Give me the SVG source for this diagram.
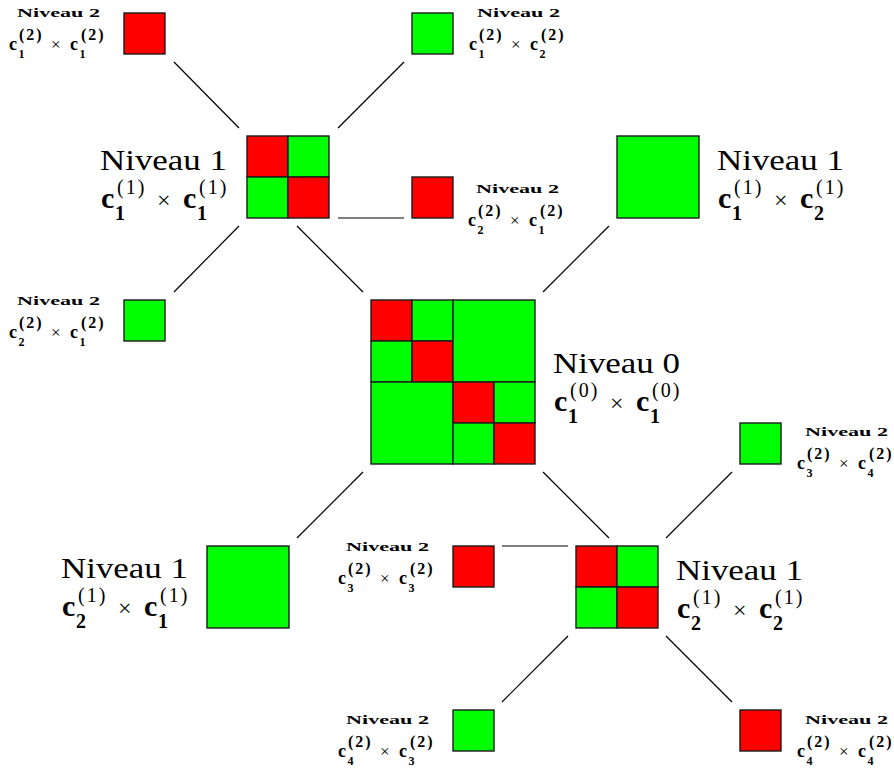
<svg xmlns="http://www.w3.org/2000/svg" width="894" height="769" viewBox="0 0 894 769" font-family="'Liberation Serif','DejaVu Serif',serif">
<style>
text{font-family:"Liberation Serif","DejaVu Serif",serif;fill:#000}
.r{fill:#ff0000;stroke:#1a1a1a;stroke-width:1.4}
.g{fill:#00ff00;stroke:#1a1a1a;stroke-width:1.4}
.ln{stroke:#000;stroke-width:1.2;fill:none}
.n1{font-size:29px}
.bc{font-size:30px;font-weight:bold}
.bs{font-size:20px;font-weight:bold}
.bp{font-size:20px;letter-spacing:2px}
.bx{font-size:24px;font-weight:normal}
.n2{font-size:13.5px;font-weight:bold}
.sc{font-size:18px;font-weight:bold}
.ss{font-size:12px;font-weight:bold}
.sp{font-size:16px;font-weight:bold;letter-spacing:2px}
.sx{font-size:17px;font-weight:normal}
</style>
<rect width="894" height="769" fill="#fff"/>
<g id="connectors">
<line class="ln" x1="174" y1="62" x2="239" y2="128"/>
<line class="ln" x1="338" y1="128" x2="404" y2="62"/>
<line class="ln" x1="338" y1="218" x2="404" y2="218"/>
<line class="ln" x1="239" y1="226" x2="174" y2="292"/>
<line class="ln" x1="297" y1="226" x2="363" y2="292"/>
<line class="ln" x1="543" y1="292" x2="609" y2="226"/>
<line class="ln" x1="363" y1="472" x2="297" y2="538"/>
<line class="ln" x1="543" y1="472" x2="609" y2="538"/>
<line class="ln" x1="666" y1="538" x2="732" y2="472"/>
<line class="ln" x1="502" y1="546" x2="568" y2="546"/>
<line class="ln" x1="568" y1="636" x2="502" y2="702"/>
<line class="ln" x1="666" y1="636" x2="732" y2="702"/>
</g>
<g id="level0">
<rect class="r" x="371" y="300" width="41" height="41"/>
<rect class="g" x="412" y="300" width="41" height="41"/>
<rect class="g" x="371" y="341" width="41" height="41"/>
<rect class="r" x="412" y="341" width="41" height="41"/>
<rect class="g" x="453" y="300" width="82" height="82"/>
<rect class="g" x="371" y="382" width="82" height="82"/>
<rect class="r" x="453" y="382" width="41" height="41"/>
<rect class="g" x="494" y="382" width="41" height="41"/>
<rect class="g" x="453" y="423" width="41" height="41"/>
<rect class="r" x="494" y="423" width="41" height="41"/>
<g transform="translate(553,375)">
<text class="n1" x="0" y="-2" textLength="127" lengthAdjust="spacingAndGlyphs">Niveau 0</text>
<text><tspan class="bc" x="1" y="36">c</tspan><tspan class="bs" x="15" y="48">1</tspan><tspan class="bp" x="17" y="22">(0)</tspan><tspan class="bx" x="57" y="36">×</tspan><tspan class="bc" x="83" y="36">c</tspan><tspan class="bs" x="97" y="48">1</tspan><tspan class="bp" x="99" y="22">(0)</tspan></text>
</g>
</g>
<g id="l1-c1c1">
<rect class="r" x="247" y="136" width="41" height="41"/>
<rect class="g" x="288" y="136" width="41" height="41"/>
<rect class="g" x="247" y="177" width="41" height="41"/>
<rect class="r" x="288" y="177" width="41" height="41"/>
<g transform="translate(100,172)">
<text class="n1" x="0" y="-2" textLength="127" lengthAdjust="spacingAndGlyphs">Niveau 1</text>
<text><tspan class="bc" x="1" y="36">c</tspan><tspan class="bs" x="15" y="48">1</tspan><tspan class="bp" x="17" y="22">(1)</tspan><tspan class="bx" x="57" y="36">×</tspan><tspan class="bc" x="83" y="36">c</tspan><tspan class="bs" x="97" y="48">1</tspan><tspan class="bp" x="99" y="22">(1)</tspan></text>
</g>
</g>
<g id="l1-c1c2">
<rect class="g" x="617" y="136" width="82" height="82"/>
<g transform="translate(717,172)">
<text class="n1" x="0" y="-2" textLength="127" lengthAdjust="spacingAndGlyphs">Niveau 1</text>
<text><tspan class="bc" x="1" y="36">c</tspan><tspan class="bs" x="15" y="48">1</tspan><tspan class="bp" x="17" y="22">(1)</tspan><tspan class="bx" x="57" y="36">×</tspan><tspan class="bc" x="83" y="36">c</tspan><tspan class="bs" x="97" y="48">2</tspan><tspan class="bp" x="99" y="22">(1)</tspan></text>
</g>
</g>
<g id="l1-c2c1">
<rect class="g" x="207" y="546" width="82" height="82"/>
<g transform="translate(61,580)">
<text class="n1" x="0" y="-2" textLength="127" lengthAdjust="spacingAndGlyphs">Niveau 1</text>
<text><tspan class="bc" x="1" y="36">c</tspan><tspan class="bs" x="15" y="48">2</tspan><tspan class="bp" x="17" y="22">(1)</tspan><tspan class="bx" x="57" y="36">×</tspan><tspan class="bc" x="83" y="36">c</tspan><tspan class="bs" x="97" y="48">1</tspan><tspan class="bp" x="99" y="22">(1)</tspan></text>
</g>
</g>
<g id="l1-c2c2">
<rect class="r" x="576" y="546" width="41" height="41"/>
<rect class="g" x="617" y="546" width="41" height="41"/>
<rect class="g" x="576" y="587" width="41" height="41"/>
<rect class="r" x="617" y="587" width="41" height="41"/>
<g transform="translate(676,582)">
<text class="n1" x="0" y="-2" textLength="127" lengthAdjust="spacingAndGlyphs">Niveau 1</text>
<text><tspan class="bc" x="1" y="36">c</tspan><tspan class="bs" x="15" y="48">2</tspan><tspan class="bp" x="17" y="22">(1)</tspan><tspan class="bx" x="57" y="36">×</tspan><tspan class="bc" x="83" y="36">c</tspan><tspan class="bs" x="97" y="48">2</tspan><tspan class="bp" x="99" y="22">(1)</tspan></text>
</g>
</g>
<g id="l2-c1c1">
<rect class="r" x="124" y="13" width="41" height="41"/>
<g transform="translate(8,17)">
<text class="n2" x="9" y="0" textLength="83" lengthAdjust="spacingAndGlyphs">Niveau 2</text>
<text><tspan class="sc" x="1" y="33">c</tspan><tspan class="ss" x="10.5" y="41">1</tspan><tspan class="sp" x="11" y="23">(2)</tspan><tspan class="sx" x="43" y="33">×</tspan><tspan class="sc" x="62" y="33">c</tspan><tspan class="ss" x="71.5" y="41">1</tspan><tspan class="sp" x="73" y="23">(2)</tspan></text>
</g>
</g>
<g id="l2-c1c2">
<rect class="g" x="412" y="13" width="41" height="41"/>
<g transform="translate(468,17)">
<text class="n2" x="9" y="0" textLength="83" lengthAdjust="spacingAndGlyphs">Niveau 2</text>
<text><tspan class="sc" x="1" y="33">c</tspan><tspan class="ss" x="10.5" y="41">1</tspan><tspan class="sp" x="11" y="23">(2)</tspan><tspan class="sx" x="43" y="33">×</tspan><tspan class="sc" x="62" y="33">c</tspan><tspan class="ss" x="71.5" y="41">2</tspan><tspan class="sp" x="73" y="23">(2)</tspan></text>
</g>
</g>
<g id="l2-c2c1-right">
<rect class="r" x="412" y="177" width="41" height="41"/>
<g transform="translate(467,193)">
<text class="n2" x="9" y="0" textLength="83" lengthAdjust="spacingAndGlyphs">Niveau 2</text>
<text><tspan class="sc" x="1" y="33">c</tspan><tspan class="ss" x="10.5" y="41">2</tspan><tspan class="sp" x="11" y="23">(2)</tspan><tspan class="sx" x="43" y="33">×</tspan><tspan class="sc" x="62" y="33">c</tspan><tspan class="ss" x="71.5" y="41">1</tspan><tspan class="sp" x="73" y="23">(2)</tspan></text>
</g>
</g>
<g id="l2-c2c1-left">
<rect class="g" x="124" y="300" width="41" height="41"/>
<g transform="translate(8,305)">
<text class="n2" x="9" y="0" textLength="83" lengthAdjust="spacingAndGlyphs">Niveau 2</text>
<text><tspan class="sc" x="1" y="33">c</tspan><tspan class="ss" x="10.5" y="41">2</tspan><tspan class="sp" x="11" y="23">(2)</tspan><tspan class="sx" x="43" y="33">×</tspan><tspan class="sc" x="62" y="33">c</tspan><tspan class="ss" x="71.5" y="41">1</tspan><tspan class="sp" x="73" y="23">(2)</tspan></text>
</g>
</g>
<g id="l2-c3c3">
<rect class="r" x="453" y="546" width="41" height="41"/>
<g transform="translate(337,551)">
<text class="n2" x="9" y="0" textLength="83" lengthAdjust="spacingAndGlyphs">Niveau 2</text>
<text><tspan class="sc" x="1" y="33">c</tspan><tspan class="ss" x="10.5" y="41">3</tspan><tspan class="sp" x="11" y="23">(2)</tspan><tspan class="sx" x="43" y="33">×</tspan><tspan class="sc" x="62" y="33">c</tspan><tspan class="ss" x="71.5" y="41">3</tspan><tspan class="sp" x="73" y="23">(2)</tspan></text>
</g>
</g>
<g id="l2-c3c4">
<rect class="g" x="740" y="423" width="41" height="41"/>
<g transform="translate(796,436)">
<text class="n2" x="9" y="0" textLength="83" lengthAdjust="spacingAndGlyphs">Niveau 2</text>
<text><tspan class="sc" x="1" y="33">c</tspan><tspan class="ss" x="10.5" y="41">3</tspan><tspan class="sp" x="11" y="23">(2)</tspan><tspan class="sx" x="43" y="33">×</tspan><tspan class="sc" x="62" y="33">c</tspan><tspan class="ss" x="71.5" y="41">4</tspan><tspan class="sp" x="73" y="23">(2)</tspan></text>
</g>
</g>
<g id="l2-c4c3">
<rect class="g" x="453" y="710" width="41" height="41"/>
<g transform="translate(337,724)">
<text class="n2" x="9" y="0" textLength="83" lengthAdjust="spacingAndGlyphs">Niveau 2</text>
<text><tspan class="sc" x="1" y="33">c</tspan><tspan class="ss" x="10.5" y="41">4</tspan><tspan class="sp" x="11" y="23">(2)</tspan><tspan class="sx" x="43" y="33">×</tspan><tspan class="sc" x="62" y="33">c</tspan><tspan class="ss" x="71.5" y="41">3</tspan><tspan class="sp" x="73" y="23">(2)</tspan></text>
</g>
</g>
<g id="l2-c4c4">
<rect class="r" x="740" y="710" width="41" height="41"/>
<g transform="translate(796,724)">
<text class="n2" x="9" y="0" textLength="83" lengthAdjust="spacingAndGlyphs">Niveau 2</text>
<text><tspan class="sc" x="1" y="33">c</tspan><tspan class="ss" x="10.5" y="41">4</tspan><tspan class="sp" x="11" y="23">(2)</tspan><tspan class="sx" x="43" y="33">×</tspan><tspan class="sc" x="62" y="33">c</tspan><tspan class="ss" x="71.5" y="41">4</tspan><tspan class="sp" x="73" y="23">(2)</tspan></text>
</g>
</g>
</svg>
